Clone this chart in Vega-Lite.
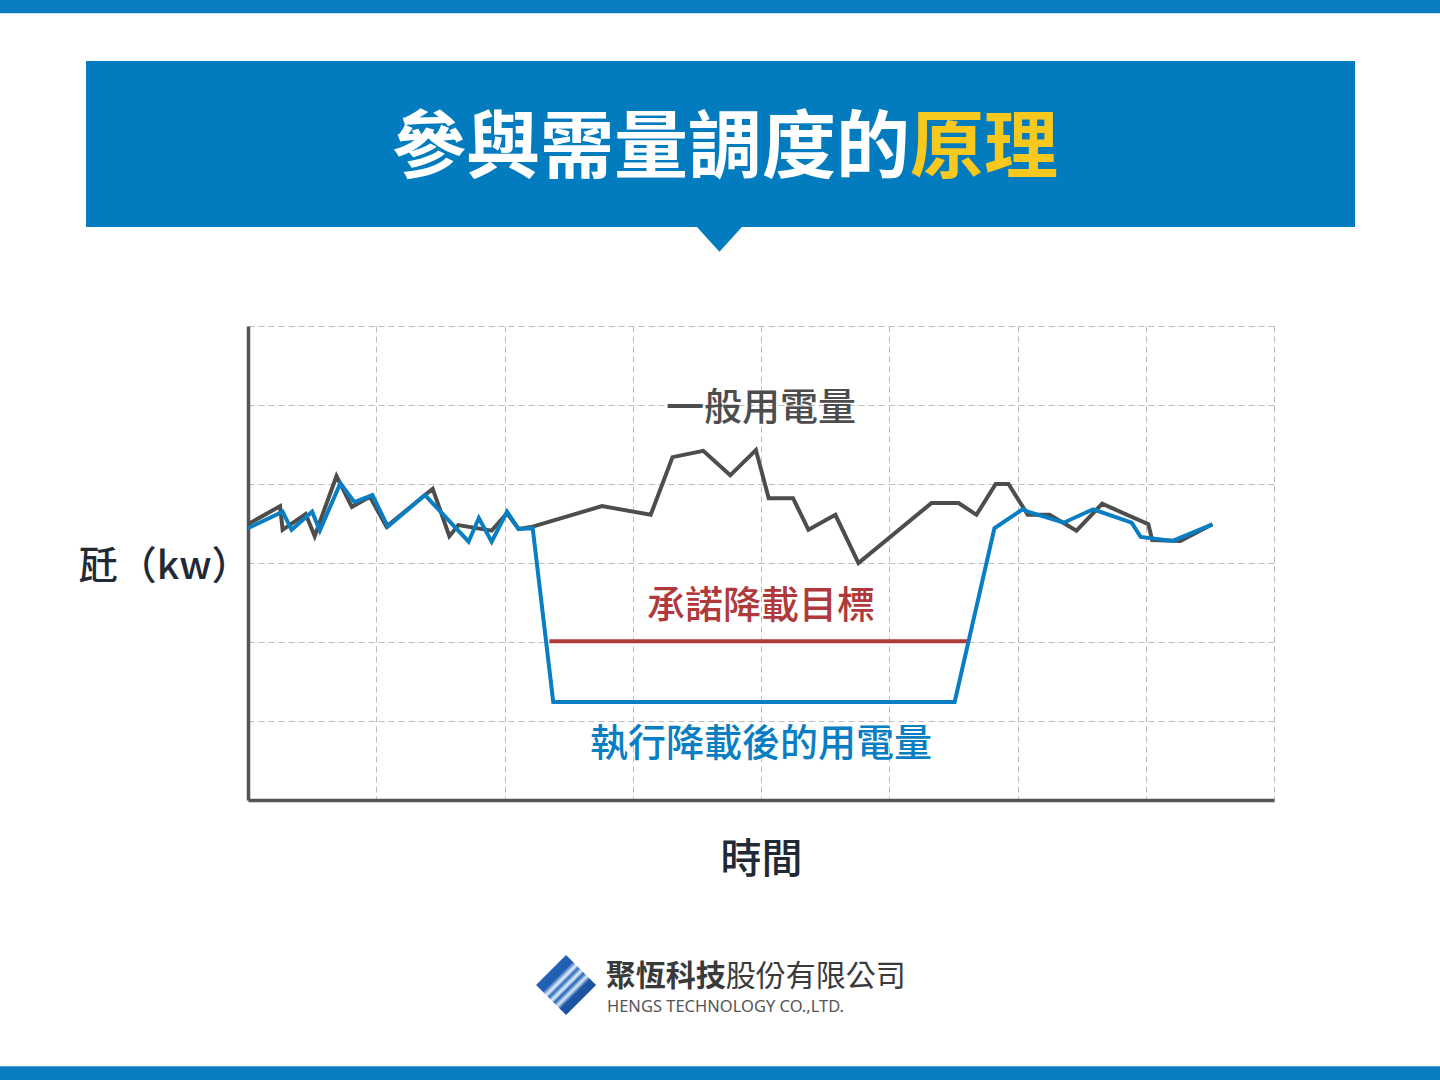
{
  "$schema": "https://vega.github.io/schema/vega-lite/v6.json",
  "width": 1026,
  "height": 474,
  "autosize": {"type": "none"},
  "padding": {"left": 248, "top": 326, "right": 166, "bottom": 280},
  "background": "white",
  "config": {"font": "Noto Sans CJK TC", "view": {"stroke": null}},
  "datasets": {
    "usage": [
      {"series": "一般用電量", "t": 0, "kw": 3.49},
      {"series": "一般用電量", "t": 0.25, "kw": 3.72},
      {"series": "一般用電量", "t": 0.27, "kw": 3.42},
      {"series": "一般用電量", "t": 0.45, "kw": 3.62},
      {"series": "一般用電量", "t": 0.52, "kw": 3.34},
      {"series": "一般用電量", "t": 0.69, "kw": 4.10},
      {"series": "一般用電量", "t": 0.81, "kw": 3.71},
      {"series": "一般用電量", "t": 0.95, "kw": 3.84},
      {"series": "一般用電量", "t": 1.08, "kw": 3.46},
      {"series": "一般用電量", "t": 1.44, "kw": 3.94},
      {"series": "一般用電量", "t": 1.57, "kw": 3.34},
      {"series": "一般用電量", "t": 1.64, "kw": 3.48},
      {"series": "一般用電量", "t": 1.90, "kw": 3.41},
      {"series": "一般用電量", "t": 2.02, "kw": 3.63},
      {"series": "一般用電量", "t": 2.11, "kw": 3.43},
      {"series": "一般用電量", "t": 2.22, "kw": 3.46},
      {"series": "一般用電量", "t": 2.76, "kw": 3.72},
      {"series": "一般用電量", "t": 3.14, "kw": 3.61},
      {"series": "一般用電量", "t": 3.31, "kw": 4.34},
      {"series": "一般用電量", "t": 3.55, "kw": 4.42},
      {"series": "一般用電量", "t": 3.76, "kw": 4.11},
      {"series": "一般用電量", "t": 3.96, "kw": 4.43},
      {"series": "一般用電量", "t": 4.06, "kw": 3.82},
      {"series": "一般用電量", "t": 4.25, "kw": 3.82},
      {"series": "一般用電量", "t": 4.37, "kw": 3.42},
      {"series": "一般用電量", "t": 4.58, "kw": 3.61},
      {"series": "一般用電量", "t": 4.76, "kw": 3.00},
      {"series": "一般用電量", "t": 5.33, "kw": 3.76},
      {"series": "一般用電量", "t": 5.54, "kw": 3.76},
      {"series": "一般用電量", "t": 5.68, "kw": 3.61},
      {"series": "一般用電量", "t": 5.83, "kw": 4.00},
      {"series": "一般用電量", "t": 5.93, "kw": 4.00},
      {"series": "一般用電量", "t": 6.08, "kw": 3.61},
      {"series": "一般用電量", "t": 6.25, "kw": 3.61},
      {"series": "一般用電量", "t": 6.46, "kw": 3.41},
      {"series": "一般用電量", "t": 6.66, "kw": 3.75},
      {"series": "一般用電量", "t": 7.02, "kw": 3.49},
      {"series": "一般用電量", "t": 7.05, "kw": 3.29},
      {"series": "一般用電量", "t": 7.27, "kw": 3.28},
      {"series": "一般用電量", "t": 7.52, "kw": 3.49},
      {"series": "執行降載後的用電量", "t": 0, "kw": 3.44},
      {"series": "執行降載後的用電量", "t": 0.27, "kw": 3.65},
      {"series": "執行降載後的用電量", "t": 0.34, "kw": 3.42},
      {"series": "執行降載後的用電量", "t": 0.50, "kw": 3.65},
      {"series": "執行降載後的用電量", "t": 0.56, "kw": 3.41},
      {"series": "執行降載後的用電量", "t": 0.72, "kw": 4.01},
      {"series": "執行降載後的用電量", "t": 0.83, "kw": 3.77},
      {"series": "執行降載後的用電量", "t": 0.97, "kw": 3.86},
      {"series": "執行降載後的用電量", "t": 1.09, "kw": 3.46},
      {"series": "執行降載後的用電量", "t": 1.38, "kw": 3.86},
      {"series": "執行降載後的用電量", "t": 1.72, "kw": 3.27},
      {"series": "執行降載後的用電量", "t": 1.80, "kw": 3.57},
      {"series": "執行降載後的用電量", "t": 1.90, "kw": 3.27},
      {"series": "執行降載後的用電量", "t": 2.02, "kw": 3.65},
      {"series": "執行降載後的用電量", "t": 2.11, "kw": 3.43},
      {"series": "執行降載後的用電量", "t": 2.22, "kw": 3.44},
      {"series": "執行降載後的用電量", "t": 2.38, "kw": 1.24},
      {"series": "執行降載後的用電量", "t": 5.51, "kw": 1.24},
      {"series": "執行降載後的用電量", "t": 5.82, "kw": 3.44},
      {"series": "執行降載後的用電量", "t": 6.04, "kw": 3.68},
      {"series": "執行降載後的用電量", "t": 6.08, "kw": 3.65},
      {"series": "執行降載後的用電量", "t": 6.36, "kw": 3.51},
      {"series": "執行降載後的用電量", "t": 6.59, "kw": 3.68},
      {"series": "執行降載後的用電量", "t": 6.89, "kw": 3.51},
      {"series": "執行降載後的用電量", "t": 6.96, "kw": 3.33},
      {"series": "執行降載後的用電量", "t": 7.21, "kw": 3.28},
      {"series": "執行降載後的用電量", "t": 7.52, "kw": 3.49},
      {"series": "承諾降載目標", "t": 2.35, "kw": 2.01},
      {"series": "承諾降載目標", "t": 5.61, "kw": 2.01}
    ],
    "labels": [
      {"series": "一般用電量", "t": 4.0, "kw": 4.95},
      {"series": "承諾降載目標", "t": 4.0, "kw": 2.44},
      {"series": "執行降載後的用電量", "t": 4.0, "kw": 0.70}
    ],
    "one": [{}]
  },
  "layer": [
    {
      "data": {"name": "usage"},
      "transform": [{"filter": "datum.series === '一般用電量'"}],
      "mark": {"type": "line", "strokeWidth": 4, "strokeJoin": "miter"},
      "encoding": {
        "x": {
          "field": "t", "type": "quantitative",
          "scale": {"domain": [0, 8], "nice": false, "zero": false},
          "axis": {
            "values": [0, 1, 2, 3, 4, 5, 6, 7, 8],
            "labels": false, "ticks": false,
            "domain": true, "domainColor": "#555555", "domainWidth": 3.5,
            "grid": true, "gridColor": "#bdbdbd", "gridDash": [6, 4], "gridWidth": 1,
            "title": "時間", "titleFontSize": 41, "titleFontWeight": 500, "titleColor": "#1f2a36",
            "titleBaseline": "middle", "titleY": 60
          }
        },
        "y": {
          "field": "kw", "type": "quantitative",
          "scale": {"domain": [0, 6], "nice": false, "zero": false},
          "axis": {
            "values": [0, 1, 2, 3, 4, 5, 6],
            "labels": false, "ticks": false,
            "domain": true, "domainColor": "#555555", "domainWidth": 3.5,
            "grid": true, "gridColor": "#bdbdbd", "gridDash": [6, 4], "gridWidth": 1,
            "title": "瓩（kw）", "titleFontSize": 39, "titleFontWeight": 500, "titleColor": "#1f2a36",
            "titleAngle": 0, "titleAlign": "right", "titleBaseline": "middle", "titleX": 2, "titleY": 240
          }
        },
        "color": {
          "field": "series", "type": "nominal", "legend": null,
          "scale": {"domain": ["一般用電量", "執行降載後的用電量", "承諾降載目標"], "range": ["#4d4d4d", "#0a7ec2", "#b0393b"]}
        }
      }
    },
    {
      "data": {"name": "usage"},
      "transform": [{"filter": "datum.series === '承諾降載目標'"}],
      "mark": {"type": "line", "strokeWidth": 4},
      "encoding": {
        "x": {"field": "t", "type": "quantitative"},
        "y": {"field": "kw", "type": "quantitative"},
        "color": {"field": "series", "type": "nominal", "legend": null}
      }
    },
    {
      "data": {"name": "usage"},
      "transform": [{"filter": "datum.series === '執行降載後的用電量'"}],
      "mark": {"type": "line", "strokeWidth": 4, "strokeJoin": "miter"},
      "encoding": {
        "x": {"field": "t", "type": "quantitative"},
        "y": {"field": "kw", "type": "quantitative"},
        "color": {"field": "series", "type": "nominal", "legend": null}
      }
    },
    {
      "data": {"name": "labels"},
      "mark": {"type": "text", "fontSize": 38, "fontWeight": 500, "baseline": "middle", "align": "center"},
      "encoding": {
        "x": {"field": "t", "type": "quantitative"},
        "y": {"field": "kw", "type": "quantitative"},
        "text": {"field": "series"},
        "color": {"field": "series", "type": "nominal", "legend": null}
      }
    },
    {
      "data": {"name": "one"},
      "mark": {"type": "rect", "color": "#0a7cc1"},
      "encoding": {
        "x": {"datum": -2.2, "type": "quantitative"},
        "x2": {"datum": 9.6},
        "y": {"datum": 9.96, "type": "quantitative"},
        "y2": {"datum": 10.3}
      }
    },
    {
      "data": {"name": "one"},
      "mark": {"type": "rect", "color": "#0a7cc1"},
      "encoding": {
        "x": {"datum": -2.2, "type": "quantitative"},
        "x2": {"datum": 9.6},
        "y": {"datum": -3.37, "type": "quantitative"},
        "y2": {"datum": -3.7}
      }
    },
    {
      "data": {"name": "one"},
      "mark": {"type": "rect", "color": "#037cbf"},
      "encoding": {
        "x": {"datum": -1.263, "type": "quantitative"},
        "x2": {"datum": 8.632},
        "y": {"datum": 9.354, "type": "quantitative"},
        "y2": {"datum": 7.253}
      }
    },
    {
      "data": {"name": "one"},
      "mark": {"type": "point", "shape": "M-1,-0.55L1,-0.55L0,0.55Z", "filled": true, "opacity": 1, "color": "#037cbf", "size": 2025},
      "encoding": {
        "x": {"datum": 3.676, "type": "quantitative"},
        "y": {"datum": 7.095, "type": "quantitative"}
      }
    },
    {
      "data": {"name": "one"},
      "mark": {"type": "text", "text": "參與需量調度的", "align": "right", "baseline": "middle", "fontSize": 74, "fontWeight": "bold", "color": "#ffffff"},
      "encoding": {
        "x": {"datum": 5.162, "type": "quantitative"},
        "y": {"datum": 8.228, "type": "quantitative"}
      }
    },
    {
      "data": {"name": "one"},
      "mark": {"type": "text", "text": "原理", "align": "left", "baseline": "middle", "fontSize": 74, "fontWeight": "bold", "color": "#f7c81e"},
      "encoding": {
        "x": {"datum": 5.162, "type": "quantitative"},
        "y": {"datum": 8.228, "type": "quantitative"}
      }
    },
    {
      "data": {"name": "one"},
      "mark": {
        "type": "point", "shape": "diamond", "filled": true, "opacity": 1, "size": 3600,
        "color": {
          "gradient": "linear", "x1": 0, "y1": 0, "x2": 1, "y2": 1,
          "stops": [
            {"offset": 0, "color": "#2a6cc0"},
            {"offset": 0.36, "color": "#1f5db0"},
            {"offset": 0.42, "color": "#e8f2fb"},
            {"offset": 0.46, "color": "#2a6cc0"},
            {"offset": 0.51, "color": "#e8f2fb"},
            {"offset": 0.55, "color": "#2466b8"},
            {"offset": 0.60, "color": "#dbe9f7"},
            {"offset": 0.65, "color": "#1d56a6"},
            {"offset": 1, "color": "#123f87"}
          ]
        }
      },
      "encoding": {
        "x": {"datum": 2.48, "type": "quantitative"},
        "y": {"datum": -2.342, "type": "quantitative"}
      }
    },
    {
      "data": {"name": "one"},
      "mark": {"type": "text", "text": "聚恆科技", "align": "left", "baseline": "middle", "fontSize": 30, "fontWeight": "bold", "color": "#3a3a3a"},
      "encoding": {
        "x": {"datum": 2.79, "type": "quantitative"},
        "y": {"datum": -2.246, "type": "quantitative"}
      }
    },
    {
      "data": {"name": "one"},
      "mark": {"type": "text", "text": "股份有限公司", "align": "left", "baseline": "middle", "fontSize": 30, "fontWeight": "normal", "color": "#3a3a3a"},
      "encoding": {
        "x": {"datum": 3.725, "type": "quantitative"},
        "y": {"datum": -2.246, "type": "quantitative"}
      }
    },
    {
      "data": {"name": "one"},
      "mark": {"type": "text", "text": "HENGS TECHNOLOGY CO.,LTD.", "align": "left", "baseline": "middle", "fontSize": 16.5, "font": "Noto Sans", "color": "#555555"},
      "encoding": {
        "x": {"datum": 2.799, "type": "quantitative"},
        "y": {"datum": -2.62, "type": "quantitative"}
      }
    }
  ]
}
